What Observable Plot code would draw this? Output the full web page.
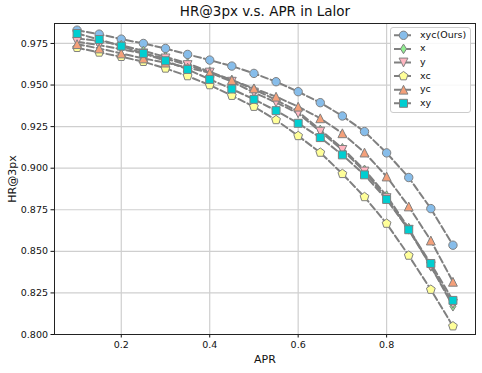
<!DOCTYPE html>
<html><head><meta charset="utf-8">
<script src="https://cdn.jsdelivr.net/npm/d3@7"></script>
<script src="https://cdn.jsdelivr.net/npm/@observablehq/plot@0.6"></script>
<style>body{margin:0;background:#fff;} svg{font-family:"DejaVu Sans",sans-serif;}</style>
</head><body><div id="chart"></div>
<script>
const apr = [0.1,0.15,0.2,0.25,0.3,0.35,0.4,0.45,0.5,0.55,0.6,0.65,0.7,0.75,0.8,0.85,0.9,0.95];
const xycOurs = [0.983,0.9806,0.9776,0.975,0.972,0.9684,0.965,0.9614,0.957,0.952,0.946,0.9394,0.9314,0.922,0.9092,0.8944,0.8757,0.8537];
const xVals  = [0.978,0.9765,0.974,0.9705,0.967,0.963,0.958,0.953,0.9475,0.941,0.934,0.923,0.912,0.899,0.8835,0.864,0.841,0.817];
const yVals  = [0.976,0.974,0.9715,0.969,0.966,0.962,0.9575,0.952,0.9455,0.9395,0.933,0.922,0.911,0.898,0.882,0.863,0.841,0.8185];
const xcVals = [0.9724,0.9696,0.967,0.964,0.960,0.9554,0.950,0.9436,0.937,0.929,0.9194,0.9094,0.8966,0.8827,0.8667,0.8475,0.827,0.805];
const ycVals = [0.9746,0.972,0.969,0.966,0.9635,0.9605,0.9574,0.953,0.948,0.943,0.937,0.930,0.921,0.9094,0.895,0.877,0.8565,0.8317];
const xyVals = [0.981,0.9774,0.9734,0.969,0.9646,0.9594,0.9534,0.9476,0.9414,0.9346,0.927,0.9184,0.908,0.896,0.8812,0.863,0.8427,0.8205];
const seriesNames = ["xyc(Ours)","x","y","xc","yc","xy"];
const seriesValues = [xycOurs,xVals,yVals,xcVals,ycVals,xyVals];
const xTicks = [0.2,0.4,0.6,0.8];
const yTicks = [0.800,0.825,0.850,0.875,0.900,0.925,0.950,0.975];

const colors = ["#87bdea","#90ee90","#ffb6c1","#ffff99","#f4a07a","#00ced1"];
const poly = pts => ({draw(ctx,size){const r=Math.sqrt(size/Math.PI);pts.forEach(([a,b],i)=>i?ctx.lineTo(a*r,b*r):ctx.moveTo(a*r,b*r));ctx.closePath();}});
const pent = Array.from({length:5},(_,k)=>{const t=(-90+72*k)*Math.PI/180;return [1.1*Math.cos(t),1.1*Math.sin(t)];});
const symbols = [
  d3.symbolCircle,
  poly([[0,-1.15],[0.72,0],[0,1.15],[-0.72,0]]),
  poly([[0,1.05],[-1.05,-1.05],[1.05,-1.05]]),
  poly(pent),
  poly([[0,-1.05],[-1.05,1.05],[1.05,1.05]]),
  poly([[-0.95,-0.95],[0.95,-0.95],[0.95,0.95],[-0.95,0.95]])
];
const R = 4.2;
const edge = "#808080";

const marks = [
  Plot.gridX(xTicks,{stroke:"#cfcfcf",strokeOpacity:1,strokeWidth:1.2}),
  Plot.gridY(yTicks,{stroke:"#cfcfcf",strokeOpacity:1,strokeWidth:1.2}),
  Plot.axisX(xTicks,{tickFormat:d3.format(".1f"),tickSize:3.5,tickPadding:3,fontSize:9.5,label:"APR",labelAnchor:"center",labelArrow:"none",labelOffset:28}),
  Plot.axisY(yTicks,{tickFormat:d3.format(".3f"),tickSize:3.5,tickPadding:3,fontSize:9.5,label:"HR@3px",labelAnchor:"center",labelArrow:"none",labelOffset:46})
];
seriesNames.forEach((name,i)=>{
  const rows = apr.map((a,j)=>({apr:a,v:seriesValues[i][j]}));
  marks.push(Plot.line(rows,{x:"apr",y:"v",stroke:edge,strokeWidth:2,strokeDasharray:"7,3"}));
  marks.push(Plot.dot(rows,{x:"apr",y:"v",symbol:symbols[i],r:R,fill:colors[i],fillOpacity:1,stroke:edge,strokeWidth:1}));
});
marks.push(Plot.frame({stroke:"#222",strokeWidth:1}));

const plot = Plot.plot({
  width:482,height:373,marginLeft:54,marginRight:7,marginTop:23,marginBottom:39,
  style:{fontFamily:"DejaVu Sans",fontSize:"9.5px",color:"#111",background:"#fff"},
  x:{domain:[0.049,1.001]},
  y:{domain:[0.800,0.987]},
  marks
});
document.getElementById("chart").append(plot);

const svg = d3.select(plot);
svg.selectAll('[aria-label="x-axis label"] text, [aria-label="y-axis label"] text').style("font-size","11px");
svg.append("text").attr("x",265).attr("y",12).attr("text-anchor","middle").attr("dominant-baseline","middle")
  .style("font-size","13.5px").attr("fill","#111").text("HR@3px v.s. APR in Lalor");

const lg = svg.append("g");
lg.append("rect").attr("x",390.5).attr("y",27.5).attr("width",80).attr("height",85).attr("rx",2.5)
  .attr("fill","#fff").attr("fill-opacity",0.85).attr("stroke","#cccccc");
seriesNames.forEach((name,i)=>{
  const y = 35.3 + i*13.6;
  lg.append("line").attr("x1",394).attr("x2",413).attr("y1",y).attr("y2",y).attr("stroke",edge).attr("stroke-width",2).attr("stroke-dasharray","7,3");
  lg.append("path").attr("transform",`translate(403.5,${y})`).attr("d",d3.symbol(symbols[i],Math.PI*R*R)())
    .attr("fill",colors[i]).attr("stroke",edge).attr("stroke-width",1);
  lg.append("text").attr("x",420).attr("y",y).attr("text-anchor","start").attr("dominant-baseline","middle")
    .style("font-size","9.5px").attr("fill","#111").text(name);
});
</script></body></html>
